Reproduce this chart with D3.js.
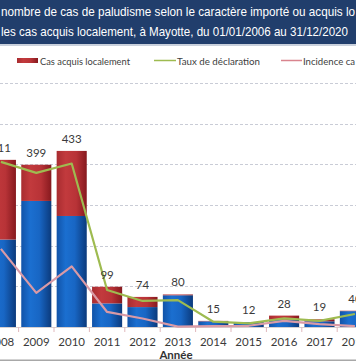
<!DOCTYPE html>
<html><head><meta charset="utf-8">
<script src="https://cdn.jsdelivr.net/npm/d3@7"></script>
<style>
html,body{margin:0;padding:0;background:#fff;overflow:hidden}
svg{display:block}
</style></head>
<body>
<script>
// ---- data (visible part of the chart) ----
const years = ["2008","2009","2010","2011","2012","2013","2014","2015","2016","2017","2018"];
const totalCases = [411, 399, 433, 99, 74, 80, 15, 12, 28, 19, 40];
const localCases = [196, 89, 160, 41, 25, 2, 1, 0, 10, 5, 1];
const importedCases = totalCases.map((t,i)=>t-localCases[i]);
const tauxDeclaration = [4.06, 3.79, 4.02, 0.91, 0.64, 0.66, 0.13, 0.09, 0.21, 0.15, 0.32];
const incidenceLocale = [1.92, 0.84, 1.49, 0.37, 0.21, 0.01, 0.02, 0.03, 0.15, 0.07, 0.02];
const yTicks = [100, 200, 300, 400, 500, 600];
const titleLines = [
  "nombre de cas de paludisme selon le caractère importé ou acquis lo",
  "les cas acquis localement, à Mayotte, du 01/01/2006 au 31/12/2020"
];
const legendItems = ["Cas acquis localement", "Taux de déclaration", "Incidence ca"];
const xTitle = "Année";

const W = 356, H = 364;
const svg = d3.select("body").append("svg").attr("width", W).attr("height", H);
const defs = svg.append("defs");

function grad(id, stops){
  const g = defs.append("linearGradient").attr("id", id).attr("x1","0").attr("x2","1").attr("y1","0").attr("y2","0");
  stops.forEach(s=>g.append("stop").attr("offset", s[0]).attr("stop-color", s[1]));
}
grad("gBlue", [[0,"#1153a8"],[0.3,"#1b6fd0"],[0.6,"#1866c4"],[1,"#0b3a7c"]]);
grad("gRed", [[0,"#a82c30"],[0.3,"#c23a3d"],[0.65,"#b83337"],[1,"#86191e"]]);

// ---- header band ----
svg.append("rect").attr("x",0).attr("y",0).attr("width",W).attr("height",44).attr("fill","#213e6c");
svg.append("rect").attr("x",0).attr("y",44).attr("width",W).attr("height",2).attr("fill","#c9d0dc");
const titleWidths = [354, 347];
svg.selectAll("text.title").data(titleLines).join("text")
  .attr("class","title")
  .attr("x", 1).attr("y",(d,i)=> i===0 ? 16 : 36)
  .attr("fill","#ffffff")
  .attr("font-family","Liberation Sans, Arial, sans-serif")
  .attr("font-size", 12.4)
  .attr("textLength",(d,i)=>titleWidths[i]).attr("lengthAdjust","spacingAndGlyphs")
  .text(d=>d);

// ---- scales ----
const x = d3.scaleBand().domain(years).range([-16.8, 372.6]).paddingInner(0.15).paddingOuter(0.075);
const y = d3.scaleLinear().domain([0, 600]).range([327, 83]);
const y2 = d3.scaleLinear().domain([0, 6]).range([327, 83]);

// gridlines
svg.append("g").selectAll("line").data(yTicks).join("line")
  .attr("x1",0).attr("x2",W)
  .attr("y1",d=>Math.round(y(d))+0.5).attr("y2",d=>Math.round(y(d))+0.5)
  .attr("stroke","#c9ccd6").attr("stroke-width",1).attr("stroke-dasharray","3,2");

// bars
const bars = svg.append("g");
bars.selectAll("rect.imp").data(years).join("rect")
  .attr("x", d=>x(d)).attr("width", x.bandwidth())
  .attr("y", (d,i)=>y(importedCases[i])).attr("height",(d,i)=>y(0)-y(importedCases[i]))
  .attr("fill","url(#gBlue)");
bars.selectAll("rect.loc").data(years).join("rect")
  .attr("x", d=>x(d)).attr("width", x.bandwidth())
  .attr("y", (d,i)=>y(totalCases[i])).attr("height",(d,i)=>y(importedCases[i])-y(totalCases[i]))
  .attr("fill","url(#gRed)");

// x axis
const step = x.step();
svg.append("line").attr("x1",0).attr("x2",W).attr("y1",327.5).attr("y2",327.5).attr("stroke","#d6d0d0");
svg.append("g").selectAll("line").data(years).join("line")
  .attr("x1",d=>x(d)+x.bandwidth()/2+step/2).attr("x2",d=>x(d)+x.bandwidth()/2+step/2)
  .attr("y1",327).attr("y2",332).attr("stroke","#e0b8bc");
svg.append("g").selectAll("text").data(years).join("text")
  .attr("x",d=>x(d)+x.bandwidth()/2).attr("y",345.5)
  .attr("text-anchor","middle").attr("fill","#3a3a3a")
  .attr("font-family","Lato, sans-serif").attr("font-size",11.5)
  .text(d=>d);
svg.append("text").attr("x",176).attr("y",358.5).attr("text-anchor","middle")
  .attr("font-family","Lato, sans-serif").attr("font-weight","bold").attr("font-size",11.5)
  .attr("fill","#333").text(xTitle);

// lines
const lineGen = (vals)=>d3.line().x((d,i)=>x(years[i])+x.bandwidth()/2).y(d=>y2(d))(vals);
svg.append("path").attr("d", lineGen(incidenceLocale)).attr("fill","none")
  .attr("stroke","#d99aa6").attr("stroke-width",2.2).attr("stroke-linejoin","round");
svg.append("path").attr("d", lineGen(tauxDeclaration)).attr("fill","none")
  .attr("stroke","#9ebb50").attr("stroke-width",2.2).attr("stroke-linejoin","round");

// value labels
svg.append("g").selectAll("text").data(years).join("text")
  .attr("x",d=>x(d)+x.bandwidth()/2).attr("y",(d,i)=>y(totalCases[i])-8)
  .attr("text-anchor","middle").attr("fill","#3a3a3a")
  .attr("font-family","Lato, sans-serif").attr("font-size",11.5)
  .text((d,i)=>totalCases[i]);

// bottom border
svg.append("rect").attr("x",0).attr("y",359.5).attr("width",W).attr("height",1.5).attr("fill","#a8a8a8");

// legend
const lg = svg.append("g").attr("font-family","Lato, sans-serif").attr("font-size",10).attr("fill","#404040");
lg.append("rect").attr("x",17).attr("y",58).attr("width",21).attr("height",5).attr("fill","url(#gRed)");
lg.append("text").attr("x",40).attr("y",64.5).attr("textLength",90).attr("lengthAdjust","spacingAndGlyphs").text(legendItems[0]);
lg.append("line").attr("x1",154).attr("x2",176).attr("y1",60.5).attr("y2",60.5).attr("stroke","#9ebb50").attr("stroke-width",1.5);
lg.append("text").attr("x",177).attr("y",64.5).attr("textLength",83).attr("lengthAdjust","spacingAndGlyphs").text(legendItems[1]);
lg.append("line").attr("x1",281).attr("x2",302).attr("y1",60.5).attr("y2",60.5).attr("stroke","#d9848e").attr("stroke-width",1.5);
lg.append("text").attr("x",303).attr("y",64.5).attr("textLength",52).attr("lengthAdjust","spacingAndGlyphs").text(legendItems[2]);
</script>
</body></html>
